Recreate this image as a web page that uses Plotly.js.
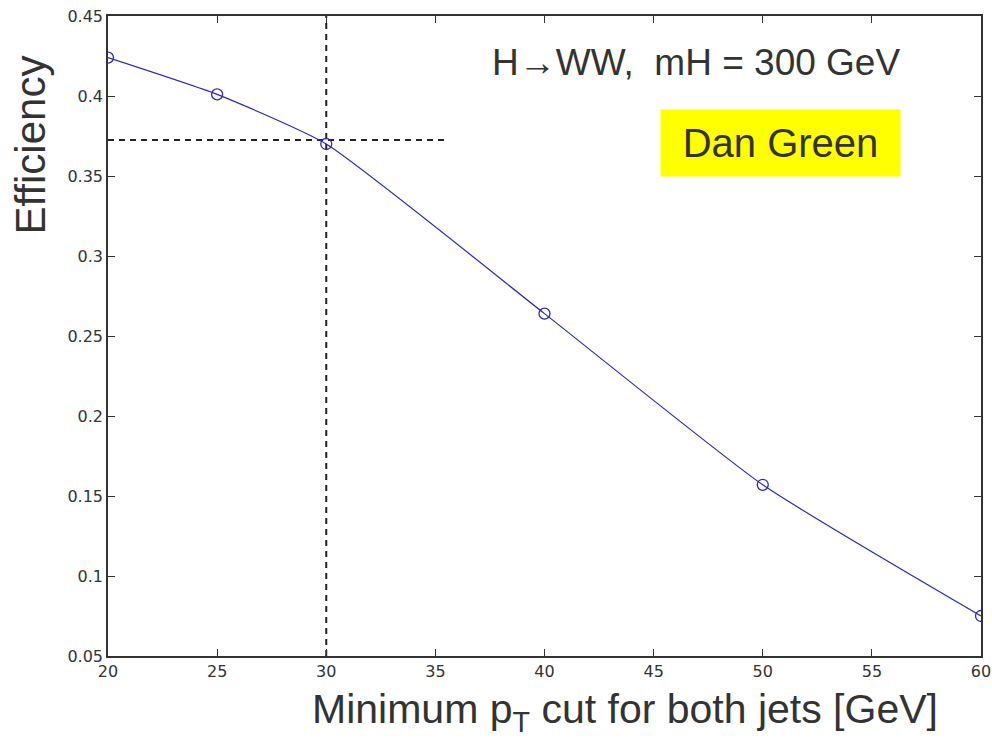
<!DOCTYPE html>
<html><head><meta charset="utf-8">
<script src="https://cdn.plot.ly/plotly-3.0.1.min.js"></script>
<style>html,body{margin:0;padding:0;background:#fff}</style>
</head><body><div id="chart" style="width:992px;height:739px"></div>
<script>
const ptCut = [20, 25, 30, 40, 50, 60];
const efficiency = [0.424, 0.401, 0.370, 0.264, 0.157, 0.075];
const refCut = 30;
const refEff = 0.3725;
const refLineEnd = 35.4;
const xTicks = [20, 25, 30, 35, 40, 45, 50, 55, 60];
const yTicks = [0.05, 0.1, 0.15, 0.2, 0.25, 0.3, 0.35, 0.4, 0.45];

const traces = [
  {x: [refCut, refCut], y: [0.05, 0.45], mode: 'lines', line: {color: '#222', width: 2, dash: '6px,5px'}, hoverinfo: 'skip'},
  {x: [20, refLineEnd], y: [refEff, refEff], mode: 'lines', line: {color: '#222', width: 2, dash: '6px,5px'}, hoverinfo: 'skip'},
  {x: ptCut, y: efficiency, mode: 'lines+markers', line: {color: '#2a2ab8', width: 1.2, shape: 'spline', smoothing: 0.5},
   marker: {symbol: 'circle-open', size: 11, color: '#2a2ab8', line: {width: 1.3}}}
];
const axisCommon = {showgrid: false, zeroline: false, showline: true, linecolor: '#333', linewidth: 1.5, mirror: 'ticks',
  ticks: 'inside', ticklen: 7, tickcolor: '#333', tickfont: {family: 'DejaVu Sans, Arial', size: 16, color: '#333'}};
const layout = {
  width: 992, height: 739, showlegend: false, paper_bgcolor: '#fff', plot_bgcolor: '#fff',
  margin: {l: 108, r: 11, t: 16, b: 83},
  xaxis: Object.assign({}, axisCommon, {range: [20, 60], tickvals: xTicks, ticktext: xTicks.map(String)}),
  yaxis: Object.assign({}, axisCommon, {range: [0.05, 0.45], tickvals: yTicks, ticktext: yTicks.map(v => String(v))}),
  annotations: [
    {xref: 'paper', yref: 'paper', x: -0.089, y: 0.798, xanchor: 'center', yanchor: 'middle', showarrow: false, textangle: -90,
     text: 'Efficiency', font: {family: 'Liberation Sans, Arial', size: 42, color: '#333'}},
    {xref: 'paper', yref: 'paper', x: 0.592, y: -0.087, xanchor: 'center', yanchor: 'middle', showarrow: false,
     text: 'Minimum p<sub>T</sub> cut for both jets [GeV]', font: {family: 'Liberation Sans, Arial', size: 41, color: '#333'}},
    {xref: 'paper', yref: 'paper', x: 0.673, y: 0.928, xanchor: 'center', yanchor: 'middle', showarrow: false,
     text: 'H\u2192WW,  mH = 300 GeV', font: {family: 'Liberation Sans, Arial', size: 37, color: '#333'}},
    {xref: 'paper', yref: 'paper', x: 0.770, y: 0.801, xanchor: 'center', yanchor: 'middle', showarrow: false,
     text: 'Dan Green', bgcolor: '#ffff00', borderpad: 10, width: 219, height: 46,
     font: {family: 'Liberation Sans, Arial', size: 40, color: '#333'}}
  ]
};
Plotly.newPlot('chart', traces, layout, {displayModeBar: false});
</script></body></html>
